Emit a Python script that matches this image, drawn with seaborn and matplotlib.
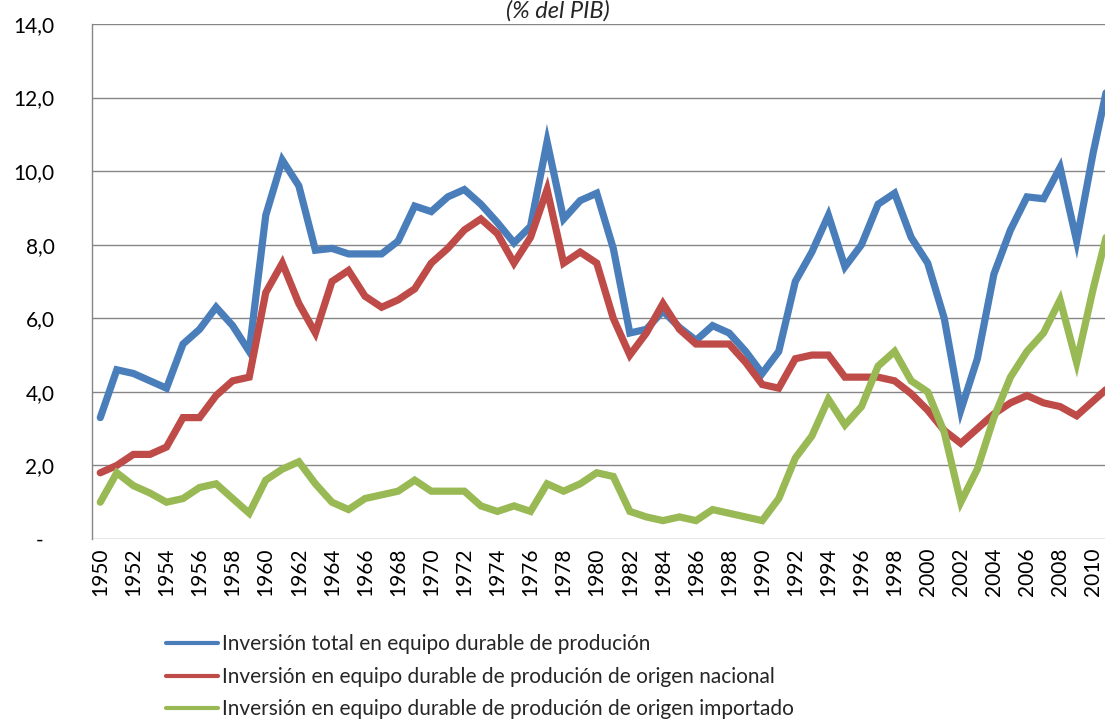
import matplotlib
matplotlib.use("Agg")
import matplotlib.pyplot as plt
import seaborn as sns
import pandas as pd

years = list(range(1950, 2012))

total = [3.3, 4.6, 4.5, 4.3, 4.1, 5.3, 5.7, 6.3, 5.8, 5.1,
         8.8, 10.3, 9.6, 7.85, 7.9, 7.75, 7.75, 7.75, 8.1, 9.05,
         8.9, 9.3, 9.5, 9.1, 8.6, 8.05, 8.5, 10.8, 8.7, 9.2,
         9.4, 7.9, 5.6, 5.7, 6.2, 5.75, 5.4, 5.8, 5.6, 5.1,
         4.5, 5.1, 7.0, 7.8, 8.8, 7.4, 8.0, 9.1, 9.4, 8.2,
         7.5, 6.0, 3.5, 4.9, 7.2, 8.4, 9.3, 9.25, 10.1, 8.1,
         10.5, 12.6]

nacional = [1.8, 2.0, 2.3, 2.3, 2.5, 3.3, 3.3, 3.9, 4.3, 4.4,
            6.7, 7.5, 6.4, 5.6, 7.0, 7.3, 6.6, 6.3, 6.5, 6.8,
            7.5, 7.9, 8.4, 8.7, 8.3, 7.5, 8.2, 9.5, 7.5, 7.8,
            7.5, 6.0, 5.0, 5.6, 6.4, 5.7, 5.3, 5.3, 5.3, 4.8,
            4.2, 4.1, 4.9, 5.0, 5.0, 4.4, 4.4, 4.4, 4.3, 3.95,
            3.5, 2.95, 2.6, 3.0, 3.4, 3.7, 3.9, 3.7, 3.6, 3.35,
            3.75, 4.15]

importado = [1.0, 1.8, 1.45, 1.25, 1.0, 1.1, 1.4, 1.5, 1.1, 0.7,
             1.6, 1.9, 2.1, 1.5, 1.0, 0.8, 1.1, 1.2, 1.3, 1.6,
             1.3, 1.3, 1.3, 0.9, 0.75, 0.9, 0.75, 1.5, 1.3, 1.5,
             1.8, 1.7, 0.75, 0.6, 0.5, 0.6, 0.5, 0.8, 0.7, 0.6,
             0.5, 1.1, 2.2, 2.8, 3.8, 3.1, 3.6, 4.7, 5.1, 4.3,
             4.0, 2.9, 1.0, 1.9, 3.3, 4.4, 5.1, 5.6, 6.5, 4.8,
             6.8, 8.6]

series_names = [
    "Inversión total en equipo durable de produción",
    "Inversión en equipo durable de produción de origen nacional",
    "Inversión en equipo durable de produción de origen importado",
]
colors = ["#4A7EBB", "#BE4B48", "#98B954"]

y_ticks = [0, 2, 4, 6, 8, 10, 12, 14]
y_tick_labels = ["-  ", "2,0", "4,0", "6,0", "8,0", "10,0", "12,0", "14,0"]
x_ticks = list(range(1950, 2011, 2))

title_text = "(% del PIB)"

df = pd.DataFrame({
    "year": years * 3,
    "value": total + nacional + importado,
    "serie": [series_names[0]] * len(years) + [series_names[1]] * len(years)
             + [series_names[2]] * len(years),
})

sns.set_theme(style="white")
plt.rcParams["font.family"] = ["Lato", "DejaVu Sans"]

fig = plt.figure(figsize=(11.05, 7.2), dpi=100)
ax = fig.add_axes([92 / 1105, 181 / 720, 1026 / 1105, 515 / 720])

sns.lineplot(data=df, x="year", y="value", hue="serie", hue_order=series_names,
             palette=colors, linewidth=5.2, ax=ax, legend=True,
             solid_joinstyle="miter")

ax.set_xlim(1949.5, 2011.5)
ax.set_ylim(0, 14)
ax.set_yticks(y_ticks)
ax.set_yticklabels(y_tick_labels)
ax.set_xticks(x_ticks)
ax.set_xticklabels([str(y) for y in x_ticks], rotation=90)
ax.tick_params(axis="y", length=0, pad=27, labelsize=15, labelcolor="black")
ax.tick_params(axis="x", length=0, pad=6, labelsize=15, labelcolor="black")
ax.set_xlabel("")
ax.set_ylabel("")

ax.yaxis.grid(True, color="#868686", linewidth=1.0)
ax.xaxis.grid(False)
ax.set_axisbelow(True)
for s in ["top", "right", "bottom"]:
    ax.spines[s].set_visible(False)
ax.spines["left"].set_color("#868686")
ax.spines["left"].set_linewidth(1.0)

fig.text(558 / 1105, 1 - 18 / 720, title_text, ha="center", va="baseline",
         fontsize=17, style="italic")

handles, labels = ax.get_legend_handles_labels()
ax.legend_.remove()
leg = fig.legend(handles, labels, loc="upper left",
                 bbox_to_anchor=(158 / 1105, 1 - 626 / 720),
                 frameon=False, fontsize=15, handlelength=2.5,
                 handletextpad=0.15, labelspacing=0.6, borderaxespad=0)
for h in leg.get_lines():
    h.set_linewidth(3)

fig.savefig("out.png", dpi=100)
